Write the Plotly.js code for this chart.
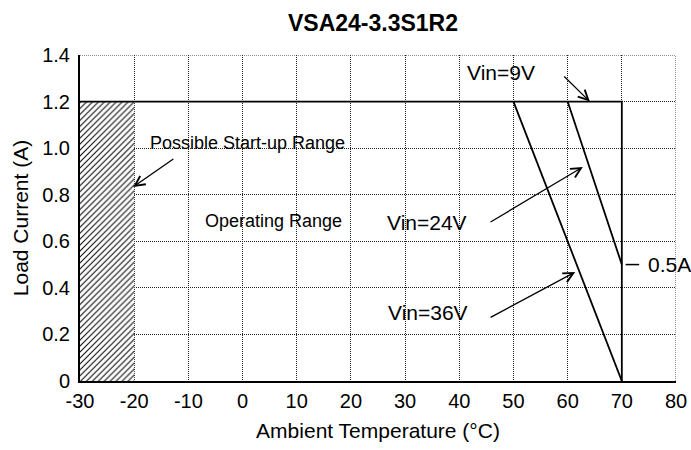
<!DOCTYPE html>
<html>
<head>
<meta charset="utf-8">
<script src="https://cdn.plot.ly/plotly-3.0.1.min.js"></script>
<style>html,body{margin:0;padding:0;background:#fff;}#chart{width:691px;height:450px;}</style>
</head>
<body>
<div id="chart"></div>
<script>
// Tick labels
const xTickVals = [-30, -20, -10, 0, 10, 20, 30, 40, 50, 60, 70, 80];
const xTickText = ['-30', '-20', '-10', '0', '10', '20', '30', '40', '50', '60', '70', '80'];
const yTickVals = [0, 0.2, 0.4, 0.6, 0.8, 1.0, 1.2, 1.4];
const yTickText = ['0', '0.2', '0.4', '0.6', '0.8', '1.0', '1.2', '1.4'];

// Derating curves (Ambient temperature °C vs load current A)
const vin9Temp = [-30, 70, 70];
const vin9Load = [1.2, 1.2, 0];
const vin24Temp = [60, 70];
const vin24Load = [1.2, 0.5];
const vin36Temp = [50, 70];
const vin36Load = [1.2, 0];

// Possible start-up range (hatched)
const startTemp = [-30, -20, -20, -30, -30];
const startLoad = [0, 0, 1.2, 1.2, 0];

const FONT = 'Arial, "Liberation Sans", sans-serif';
const lineStyle = {color: '#000', width: 1.8};
const GRID_DASH = '1px,1px';

const traces = [
  {x: startTemp, y: startLoad, mode: 'lines', fill: 'toself',
   fillcolor: 'rgba(255,255,255,0)',
   fillpattern: {shape: '/', fgcolor: '#000', bgcolor: '#fff', size: 4.2, solidity: 0.24},
   line: {width: 0}, hoverinfo: 'skip', showlegend: false},
  {x: vin9Temp, y: vin9Load, mode: 'lines', line: lineStyle, showlegend: false},
  {x: vin24Temp, y: vin24Load, mode: 'lines', line: lineStyle, showlegend: false},
  {x: vin36Temp, y: vin36Load, mode: 'lines', line: lineStyle, showlegend: false}
];

function arrow(hx, hy, tx, ty) {
  return {x: hx, y: hy, ax: tx, ay: ty, xref: 'x', yref: 'y', axref: 'x', ayref: 'y',
          text: '', showarrow: true, arrowhead: 5, arrowsize: 1.5, arrowwidth: 1.3,
          arrowcolor: '#000', standoff: 0, startstandoff: 0};
}
function label(txt, x, y, size, anchor) {
  return {x: x, y: y, xref: 'x', yref: 'y', text: txt, showarrow: false,
          xanchor: anchor || 'center', yanchor: 'middle',
          font: {family: FONT, size: size, color: '#000'}};
}

const layout = {
  width: 691, height: 450,
  margin: {l: 80, r: 15, t: 55, b: 69},
  paper_bgcolor: '#fff', plot_bgcolor: '#fff',
  font: {family: FONT, color: '#000'},
  title: {text: '<b>VSA24-3.3S1R2</b>', x: 373 / 691, xanchor: 'center',
          y: 1 - 23 / 450, yanchor: 'middle', font: {family: FONT, size: 23, color: '#000'}},
  xaxis: {range: [-30, 80], tickvals: xTickVals, ticktext: xTickText, ticks: '', showline: true,
          linecolor: '#000', linewidth: 2, showgrid: true, gridcolor: '#222',
          griddash: GRID_DASH, gridwidth: 1, zeroline: false, ticklabelstandoff: 1,
          tickfont: {family: FONT, size: 20, color: '#000'},
          title: {text: 'Ambient Temperature (°C)', standoff: 12,
                  font: {family: FONT, size: 21, color: '#000'}}},
  yaxis: {range: [0, 1.4], tickvals: yTickVals, ticktext: yTickText, ticks: '',
          showline: true, linecolor: '#000', linewidth: 2, showgrid: true,
          gridcolor: '#222', griddash: GRID_DASH, gridwidth: 1, zeroline: false,
          ticklabelstandoff: 4,
          tickfont: {family: FONT, size: 20, color: '#000'},
          title: {text: 'Load Current (A)', standoff: 8,
                  font: {family: FONT, size: 21, color: '#000'}}},
  shapes: [
    {type: 'line', xref: 'x', yref: 'y', x0: -30, x1: 80, y0: 1.4, y1: 1.4,
     line: {color: '#222', width: 1, dash: GRID_DASH}},
    {type: 'line', xref: 'x', yref: 'y', x0: 80, x1: 80, y0: 0, y1: 1.4,
     line: {color: '#222', width: 1, dash: GRID_DASH}},
    {type: 'line', xref: 'x', yref: 'y', x0: 70.7, x1: 73.2, y0: 0.5, y1: 0.5,
     line: {color: '#000', width: 1.5}}
  ],
  annotations: [
    label('Possible Start-up Range', 0.9, 1.022, 18),
    label('Operating Range', 5.7, 0.685, 18),
    label('Vin=9V', 47.7, 1.325, 21),
    label('Vin=24V', 34.0, 0.681, 21),
    label('Vin=36V', 34.3, 0.294, 21),
    label('0.5A', 74.5, 0.5, 21, 'left'),
    arrow(-20.2, 0.833, -12.5, 0.958),
    arrow(64.1, 1.2, 59.1, 1.314),
    arrow(62.8, 0.919, 45.5, 0.679),
    arrow(61.4, 0.468, 45.5, 0.27)
  ]
};

Plotly.newPlot('chart', traces, layout, {displayModeBar: false, staticPlot: true});
</script>
</body>
</html>
